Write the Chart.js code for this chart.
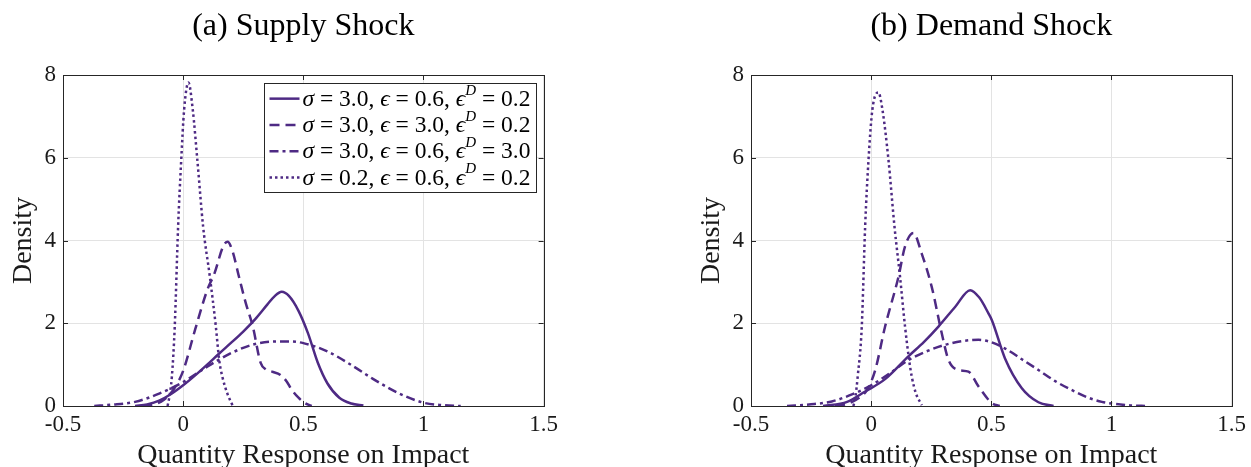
<!DOCTYPE html>
<html lang="en">
<head>
<meta charset="UTF-8">
<title>Quantity Response Densities</title>
<script src="https://cdn.jsdelivr.net/npm/chart.js"></script>
<style>
    html, body { margin: 0; padding: 0; background: #fff; overflow: hidden; }
    .panel { position: absolute; top: 0; width: 563px; height: 467px; }
    #panelA { left: 0; }
    #panelB { left: 688px; }
</style>
</head>
<body>
<div class="panel" id="panelA"><canvas id="chartA" width="563" height="467"></canvas></div>
<div class="panel" id="panelB"><canvas id="chartB" width="563" height="467"></canvas></div>
<script>
// axis ticks
const xTicks = [-0.5, 0, 0.5, 1, 1.5];
const xTickLabels = ['-0.5', '0', '0.5', '1', '1.5'];
const yTicks = [0, 2, 4, 6, 8];
const yTickLabels = ['0', '2', '4', '6', '8'];
const panelTitles = ['(a) Supply Shock', '(b) Demand Shock'];

// legend parameters (one per series)
const sigmaVals = ['3.0', '3.0', '3.0', '0.2'];
const epsVals = ['0.6', '3.0', '0.6', '0.6'];
const epsDVals = ['0.2', '0.2', '3.0', '0.2'];

// (a) supply shock densities
const aSolidX = [-0.20, -0.15, -0.10, -0.05, 0.00, 0.05, 0.10, 0.15, 0.20, 0.25, 0.30, 0.35, 0.38, 0.41, 0.44, 0.48, 0.52, 0.56, 0.60, 0.65, 0.70, 0.75];
const aSolidY = [0.00, 0.04, 0.13, 0.29, 0.50, 0.74, 1.00, 1.27, 1.53, 1.80, 2.10, 2.45, 2.65, 2.76, 2.66, 2.30, 1.75, 1.05, 0.55, 0.20, 0.06, 0.01];
const aDashX = [-0.17, -0.12, -0.08, -0.04, 0.00, 0.05, 0.10, 0.13, 0.166, 0.185, 0.205, 0.232, 0.26, 0.29, 0.322, 0.345, 0.37, 0.405, 0.43, 0.452, 0.48, 0.507, 0.535];
const aDashY = [0.00, 0.04, 0.15, 0.40, 0.85, 1.85, 2.80, 3.20, 3.85, 3.97, 3.75, 3.13, 2.50, 1.92, 1.05, 0.88, 0.83, 0.75, 0.60, 0.39, 0.20, 0.07, 0.00];
const aDashDotX = [-0.37, -0.30, -0.20, -0.10, 0.00, 0.10, 0.20, 0.30, 0.40, 0.45, 0.50, 0.60, 0.70, 0.80, 0.90, 1.00, 1.08, 1.155];
const aDashDotY = [0.00, 0.03, 0.10, 0.30, 0.58, 0.95, 1.28, 1.50, 1.56, 1.56, 1.52, 1.32, 0.99, 0.62, 0.30, 0.08, 0.02, 0.00];
const aDotX = [-0.065, -0.058, -0.047, -0.035, -0.021, -0.008, 0.004, 0.022, 0.040, 0.059, 0.083, 0.111, 0.136, 0.150, 0.163, 0.184, 0.205];
const aDotY = [0.00, 0.20, 0.71, 1.92, 4.34, 5.95, 7.16, 7.82, 7.16, 5.95, 4.34, 3.13, 1.92, 1.11, 0.71, 0.30, 0.02];

// (b) demand shock densities
const bSolidX = [-0.20, -0.10, -0.025, 0.058, 0.155, 0.22, 0.28, 0.35, 0.412, 0.45, 0.488, 0.502, 0.557, 0.627, 0.696, 0.759];
const bSolidY = [0.00, 0.10, 0.35, 0.65, 1.20, 1.55, 1.92, 2.40, 2.80, 2.62, 2.24, 2.08, 1.15, 0.43, 0.09, 0.00];
const bDashX = [-0.15, -0.10, -0.05, -0.017, 0.017, 0.058, 0.114, 0.141, 0.176, 0.21, 0.252, 0.294, 0.322, 0.363, 0.405, 0.447, 0.502, 0.535];
const bDashY = [0.00, 0.05, 0.20, 0.39, 0.87, 1.92, 3.13, 3.86, 4.18, 3.69, 2.88, 1.75, 1.11, 0.87, 0.83, 0.47, 0.07, 0.00];
const bDashDotX = [-0.35, -0.25, -0.164, -0.08, 0.00, 0.08, 0.155, 0.23, 0.308, 0.38, 0.447, 0.49, 0.56, 0.627, 0.696, 0.766, 0.83, 0.904, 0.96, 1.00, 1.08, 1.147];
const bDashDotY = [0.00, 0.04, 0.11, 0.28, 0.50, 0.80, 1.11, 1.32, 1.48, 1.57, 1.60, 1.56, 1.38, 1.13, 0.87, 0.60, 0.40, 0.20, 0.10, 0.06, 0.015, 0.00];
const bDotX = [-0.074, -0.066, -0.056, -0.039, -0.025, -0.011, 0.005, 0.030, 0.047, 0.072, 0.097, 0.120, 0.141, 0.158, 0.169, 0.186, 0.211];
const bDotY = [0.00, 0.20, 0.71, 1.92, 4.34, 5.95, 7.16, 7.58, 7.16, 5.95, 4.34, 3.13, 1.92, 1.11, 0.71, 0.31, 0.02];

const purple = '#4E2A84';
const dashStyles = [[], [10, 6], [9, 4, 3, 4], [2.5, 3]];
const serif = '"Liberation Serif", "DejaVu Serif", serif';

function toPoints(xs, ys) {
    return xs.map((x, i) => ({ x: x, y: ys[i] }));
}

// box around the axes, inward tick marks and the boxed legend
const framePlugin = {
    id: 'frame',
    afterDraw(chart, args, opts) {
        const ctx = chart.ctx;
        const a = chart.chartArea;
        const xs = chart.scales.x, ys = chart.scales.y;
        ctx.save();
        ctx.strokeStyle = '#262626';
        ctx.lineWidth = 1;
        ctx.setLineDash([]);
        ctx.beginPath();
        xTicks.forEach(v => {
            const px = Math.round(xs.getPixelForValue(v)) + 0.5;
            ctx.moveTo(px, a.bottom); ctx.lineTo(px, a.bottom - 5);
            ctx.moveTo(px, a.top); ctx.lineTo(px, a.top + 5);
        });
        yTicks.forEach(v => {
            const py = Math.round(ys.getPixelForValue(v)) + 0.5;
            ctx.moveTo(a.left, py); ctx.lineTo(a.left + 5, py);
            ctx.moveTo(a.right, py); ctx.lineTo(a.right - 5, py);
        });
        ctx.stroke();
        ctx.strokeRect(Math.round(a.left) + 0.5, Math.round(a.top) + 0.5, Math.round(a.right - a.left), Math.round(a.bottom - a.top));

        if (opts.legend) {
            const up = '23.5px ' + serif;
            const it = 'italic 23.5px ' + serif;
            const sup = 'italic 15px ' + serif;
            const rows = chart.data.datasets.map((ds, i) => [
                { t: 'σ', f: it }, { t: ' = ' + sigmaVals[i] + ', ', f: up },
                { t: 'ϵ', f: it }, { t: ' = ' + epsVals[i] + ', ', f: up },
                { t: 'ϵ', f: it }, { t: 'D', f: sup, sup: true }, { t: ' = ' + epsDVals[i], f: up }
            ]);
            let textW = 0;
            rows.forEach(r => {
                let w = 0;
                r.forEach(s => { ctx.font = s.f; w += ctx.measureText(s.t).width; });
                textW = Math.max(textW, w);
            });
            const rowH = 26.3;
            const boxW = Math.round(5 + 30 + 3 + textW + 6);
            const boxH = Math.round(rows.length * rowH + 4);
            const bx = Math.round(a.right - 8 - boxW) + 0.5;
            const by = Math.round(a.top + 8) + 0.5;
            ctx.fillStyle = '#fff';
            ctx.fillRect(bx, by, boxW, boxH);
            ctx.strokeStyle = '#262626';
            ctx.strokeRect(bx, by, boxW, boxH);
            rows.forEach((r, i) => {
                const ds = chart.data.datasets[i];
                const cy = by + 2 + rowH * (i + 0.5);
                ctx.strokeStyle = ds.borderColor;
                ctx.lineWidth = ds.borderWidth;
                ctx.setLineDash(ds.borderDash || []);
                ctx.beginPath();
                ctx.moveTo(bx + 5, cy); ctx.lineTo(bx + 35, cy);
                ctx.stroke();
                ctx.setLineDash([]);
                ctx.fillStyle = '#000';
                ctx.textBaseline = 'middle';
                ctx.textAlign = 'left';
                let tx = bx + 38;
                r.forEach(s => {
                    ctx.font = s.f;
                    ctx.fillText(s.t, tx, s.sup ? cy - 8 : cy + 1);
                    tx += ctx.measureText(s.t).width;
                });
            });
        }
        ctx.restore();
    }
};

function makeChart(id, title, series, withLegend) {
    const datasets = series.map((s, i) => ({
        label: 'σ = ' + sigmaVals[i] + ', ϵ = ' + epsVals[i] + ', ϵD = ' + epsDVals[i],
        data: toPoints(s[0], s[1]),
        borderColor: purple,
        borderWidth: 2.5,
        borderDash: dashStyles[i],
        borderCapStyle: 'butt',
        pointRadius: 0,
        fill: false,
        cubicInterpolationMode: 'monotone'
    }));

    return new Chart(document.getElementById(id), {
        type: 'line',
        data: { datasets: datasets },
        options: {
            responsive: false,
            animation: false,
            devicePixelRatio: 1,
            layout: { padding: { left: 0, right: 18, top: 0, bottom: 0 } },
            plugins: {
                legend: { display: false },
                tooltip: { enabled: false },
                title: {
                    display: true,
                    text: title,
                    fullSize: false,
                    color: '#000',
                    font: { family: serif, size: 32, weight: 'normal', lineHeight: 1.2 },
                    padding: { top: 7, bottom: 29.6 }
                },
                frame: { legend: withLegend }
            },
            scales: {
                x: {
                    type: 'linear',
                    min: -0.5,
                    max: 1.5,
                    afterBuildTicks: s => { s.ticks = xTicks.map(v => ({ value: v })); },
                    afterFit: s => { s.height = 61; },
                    ticks: {
                        callback: (v, i) => xTickLabels[i],
                        color: '#1a1a1a',
                        font: { family: serif, size: 23 },
                        padding: 5,
                        maxRotation: 0,
                        autoSkip: false
                    },
                    grid: { color: '#e3e3e3', lineWidth: 1, drawTicks: false },
                    border: { display: false },
                    title: {
                        display: true,
                        text: 'Quantity Response on Impact',
                        color: '#1a1a1a',
                        font: { family: serif, size: 28, lineHeight: 1 },
                        padding: { top: 0, bottom: -3 }
                    }
                },
                y: {
                    type: 'linear',
                    min: 0,
                    max: 8,
                    afterBuildTicks: s => { s.ticks = yTicks.map(v => ({ value: v })); },
                    afterFit: s => { s.width = 63; },
                    ticks: {
                        callback: (v, i) => yTickLabels[i],
                        color: '#1a1a1a',
                        font: { family: serif, size: 23 },
                        padding: 7
                    },
                    grid: { color: '#e3e3e3', lineWidth: 1, drawTicks: false },
                    border: { display: false },
                    title: {
                        display: true,
                        text: 'Density',
                        color: '#1a1a1a',
                        font: { family: serif, size: 28, lineHeight: 1 },
                        padding: { top: 10, bottom: 0 }
                    }
                }
            }
        },
        plugins: [framePlugin]
    });
}

makeChart('chartA', panelTitles[0], [
    [aSolidX, aSolidY], [aDashX, aDashY], [aDashDotX, aDashDotY], [aDotX, aDotY]
], true);
makeChart('chartB', panelTitles[1], [
    [bSolidX, bSolidY], [bDashX, bDashY], [bDashDotX, bDashDotY], [bDotX, bDotY]
], false);
</script>
</body>
</html>
